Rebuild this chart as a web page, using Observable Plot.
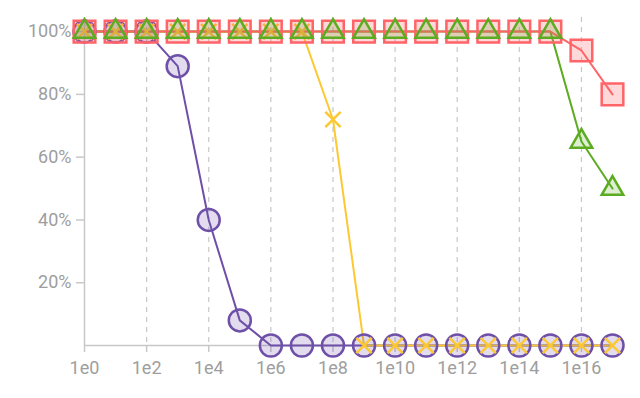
<!DOCTYPE html>
<html><head><meta charset="utf-8">
<script src="https://cdn.jsdelivr.net/npm/d3@7"></script>
<script src="https://cdn.jsdelivr.net/npm/@observablehq/plot@0.6"></script>
<style>body{margin:0;background:#fff;font-family:Roboto,sans-serif}
#chart svg g[aria-label$="tick label"]{font-size:18px !important;font-family:Roboto,sans-serif}</style>
</head><body><div id="chart"></div>
<script>
const xs = [1e0,1e1,1e2,1e3,1e4,1e5,1e6,1e7,1e8,1e9,1e10,1e11,1e12,1e13,1e14,1e15,1e16,1e17];
const purple = [1,1,1,0.89,0.40,0.08,0,0,0,0,0,0,0,0,0,0,0,0];
const yellow = [1,1,1,1,1,1,1,1,0.72,0,0,0,0,0,0,0,0,0];
const green  = [1,1,1,1,1,1,1,1,1,1,1,1,1,1,1,1,0.65,0.50];
const red    = [1,1,1,1,1,1,1,1,1,1,1,1,1,1,1,1,0.94,0.80];
const xTicks = [1e0,1e2,1e4,1e6,1e8,1e10,1e12,1e14,1e16];
const yTicks = [0.2,0.4,0.6,0.8,1.0];

const mk = a => xs.map((x,i)=>({x, y:a[i]}));
const P = mk(purple), Y = mk(yellow), G = mk(green), R = mk(red);

const C = {purple:"#6e50a8", yellow:"#fcc833", green:"#5cac22", red:"#ff6468"};
const TXT = "#9e9e9e";

const plot = Plot.plot({
  width:640, height:398,
  marginLeft:84, marginRight:28, marginTop:17, marginBottom:53,
  style:{fontFamily:"Roboto, sans-serif", background:"#fff"},
  x:{type:"log", domain:[1,1e17], label:null},
  y:{domain:[0,1.045], label:null},
  marks:[
    Plot.ruleX(xTicks.slice(1), {stroke:"#c8c8c8", strokeDasharray:"5,5", strokeWidth:1.2}),
    Plot.ruleX([1], {stroke:"#c8c8c8", strokeWidth:1.5}),
    Plot.ruleY([0], {stroke:"#c8c8c8", strokeWidth:1.5}),
    Plot.axisX({ticks:xTicks, tickFormat:d=>"1e"+Math.round(Math.log10(d)), tickSize:7, tickPadding:9, fontSize:18, fill:TXT, stroke:"#c8c8c8", strokeWidth:1.5, label:null}),
    Plot.axisY({ticks:yTicks, tickFormat:d=>Math.round(d*100)+"%", tickSize:8, tickPadding:5, fontSize:18, fill:TXT, stroke:"#c8c8c8", strokeWidth:1.5, label:null}),
    Plot.line(P, {x:"x", y:"y", stroke:C.purple, strokeWidth:2}),
    Plot.line(Y, {x:"x", y:"y", stroke:C.yellow, strokeWidth:2}),
    Plot.line(G, {x:"x", y:"y", stroke:C.green, strokeWidth:2}),
    Plot.line(R, {x:"x", y:"y", stroke:C.red, strokeWidth:2}),
    Plot.dot(P, {x:"x", y:"y", r:11, symbol:"circle", stroke:C.purple, strokeWidth:2.5, fill:C.purple, fillOpacity:0.2}),
    Plot.dot(Y, {x:"x", y:"y", r:7, symbol:"times", stroke:C.yellow, strokeWidth:2.5}),
    Plot.dot(R, {x:"x", y:"y", r:12.2, symbol:"square", stroke:C.red, strokeWidth:2.5, fill:C.red, fillOpacity:0.25}),
    Plot.dot(G, {x:"x", y:"y", r:8, symbol:"triangle", stroke:C.green, strokeWidth:2.5, fill:C.green, fillOpacity:0.2})
  ]
});
document.getElementById("chart").appendChild(plot);
</script></body></html>
